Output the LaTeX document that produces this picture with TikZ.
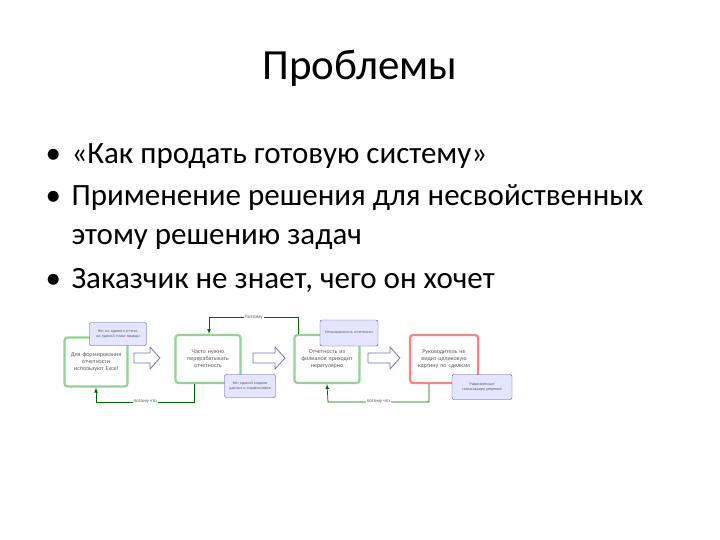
\documentclass[tikz,border=0pt]{standalone}
\usepackage{fontspec}
\setmainfont{Carlito}
\begin{document}
\begin{tikzpicture}[x=1pt,y=-1pt,
 big/.style={draw=#1,line width=2.2pt,rounded corners=3pt,fill=white,align=center,font=\fontsize{6}{7}\selectfont,text=gray!70!black,inner sep=2pt},
 note/.style={draw=blue!45!gray,fill=blue!10,rounded corners=2pt,align=center,font=\fontsize{4}{5}\selectfont,text=gray!70!black,inner sep=1pt},
 hollow/.style={draw=blue!40!gray!80,fill=white,line width=0.8pt,line join=round},
 link/.style={draw=green!40!black,line width=0.7pt,-latex},
 lbl/.style={fill=white,font=\fontsize{5}{6}\selectfont,text=gray!70!black,inner sep=1pt},
 bul/.style={anchor=base west,font=\fontsize{31}{35}\selectfont}]
\useasboundingbox (0,0) rectangle (720,540);
\node (title) at (360,68) {\fontsize{43}{48}\selectfont Проблемы};
\node[bul] (d1) at (42,164) {•};
\node[bul] (l1) at (68,164) {«Как продать готовую систему»};
\node[bul] (d2) at (42,206) {•};
\node[bul] (l2) at (68,206) {Применение решения для несвойственных};
\node[bul] (l3) at (68,244) {этому решению задач};
\node[bul] (d3) at (42,288) {•};
\node[bul] (l4) at (68,288) {Заказчик не знает, чего он хочет};
\node[big=green!40!gray!60,minimum width=63pt,minimum height=49pt,text width=58pt] (b1) at (96,362) {Для формирования отчетности используют Excel};
\node[big=green!40!gray!60,minimum width=65pt,minimum height=48pt,text width=58pt] (b2) at (208,359) {Часто нужно перерабатывать отчетность};
\node[big=green!40!gray!60,minimum width=65pt,minimum height=48pt,text width=60pt] (b3) at (327,359) {Отчетность из филиалов приходит нерегулярно};
\node[big=red!50!white,minimum width=68pt,minimum height=48pt,text width=64pt] (b4) at (444,359) {Руководитель не видит целиковую картину по сделкам};
\node[note,minimum width=57pt,minimum height=23pt,text width=55pt] (n1) at (118,334) {Нет ни единого отчета, ни единой точки правды};
\node[note,minimum width=51pt,minimum height=23pt,text width=49pt] (n2) at (250,386) {Нет единой модели данных и справочников};
\node[note,minimum width=58pt,minimum height=26pt,text width=54pt] (n3) at (349,333) {Непрозрачность отчетности};
\node[note,minimum width=60pt,minimum height=25pt,text width=56pt] (n4) at (482,387) {Разрозненные согласования решений};
\foreach \x/\w in {134/26,253/32,368/32}{
 \draw[hollow] (\x,353) -- (\x+\w-10,353) -- (\x+\w-10,347) -- (\x+\w,358) -- (\x+\w-10,369) -- (\x+\w-10,363) -- (\x,363) -- cycle;}
\coordinate (t2) at (209,317);
\draw[link] (b3.north west) ++(5,0) |- (t2) node[lbl,pos=0.75] {Поэтому} -- (b2.north west -| t2);
\coordinate (e1) at (96,402);
\draw[link] (b2.south west) ++(20,0) |- (e1) node[lbl,pos=0.75] {потому что} -- (b1.south);
\coordinate (e2) at (328,402);
\draw[link] (b4.south west) ++(20,0) |- (e2) node[lbl,pos=0.75] {потому что} -- (b3.south);
\end{tikzpicture}
\end{document}
